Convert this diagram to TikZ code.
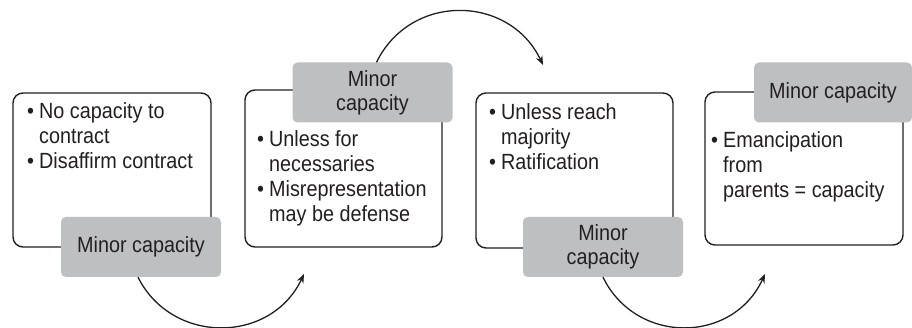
\documentclass[tikz,border=0pt]{standalone}
\usepackage{fontspec}
\setmainfont{Liberation Sans}[FakeStretch=0.9]
\usetikzlibrary{arrows.meta}
\definecolor{inkc}{RGB}{35,31,32}
\definecolor{labelgray}{RGB}{190,191,193}
\newcommand{\bul}{\makebox[12pt][l]{\textbullet}}
\newcommand{\ind}{\hspace*{12pt}}
% top-aligned block of lines, so the node's base is the first baseline
\newcommand{\toplines}[1]{\begin{tabular}[t]{@{}l@{}}#1\end{tabular}}
\tikzset{
  card/.style={draw=inkc, line width=1.4pt, rounded corners=10pt, fill=white,
    inner sep=0pt, minimum width=#1},
  tag/.style={fill=labelgray, rounded corners=5pt, inner sep=0pt,
    minimum width=160pt, minimum height=60pt, align=center, text=inkc,
    font=\fontsize{22}{24}\selectfont},
  body/.style={anchor=base west, inner sep=0pt, text=inkc,
    font=\fontsize{22}{25}\selectfont},
  flow/.style={draw=inkc, line width=1.3pt, -{Stealth[length=9pt,width=7pt]}}
}
\begin{document}
\begin{tikzpicture}[x=1pt, y=-1pt]
\useasboundingbox (0,0) rectangle (912,328);

% white cards
\node[card=198pt, minimum height=154pt] (c1) at (112,170) {};
\node[card=197pt, minimum height=157pt] (c2) at (343.5,168.5) {};
\node[card=197pt, minimum height=155pt] (c3) at (574.5,170.5) {};
\node[card=198pt, minimum height=153pt] (c4) at (804,168.5) {};

% bullet texts
\node[body] (t1) at (27,119) {\toplines{\bul No capacity to\\\ind contract\\\bul Disaffirm contract}};
\node[body] (t2) at (257,147) {\toplines{\bul Unless for\\\ind necessaries\\\bul Misrepresentation\\\ind may be defense}};
\node[body] (t3) at (489,120) {\toplines{\bul Unless reach\\\ind majority\\\bul Ratification}};
\node[body] (t4) at (711,148) {\toplines{\bul Emancipation\\\ind from\\\ind parents = capacity}};

% connector end points
\coordinate (e1) at (304,274);
\coordinate (e2) at (543,65);
\coordinate (e3) at (765,274);

% grey tags
\node[tag] (g1) at (141,247) {Minor capacity};
\node[tag] (g2) at (372.5,92.5) {Minor\\capacity};
\node[tag] (g3) at (603,247) {Minor\\capacity};
\node[tag, minimum width=158pt] (g4) at (833,92.5) {Minor capacity};

% curved connectors
\draw[flow] ([xshift=-3pt]g1.south) .. controls (172,345) and (271,344) .. (e1);
\draw[flow] ([xshift=4pt]g2.north) .. controls (411,-8) and (510,-5) .. (e2);
\draw[flow] (g3.south) .. controls (636,345) and (733,344) .. (e3);
\end{tikzpicture}
\end{document}
